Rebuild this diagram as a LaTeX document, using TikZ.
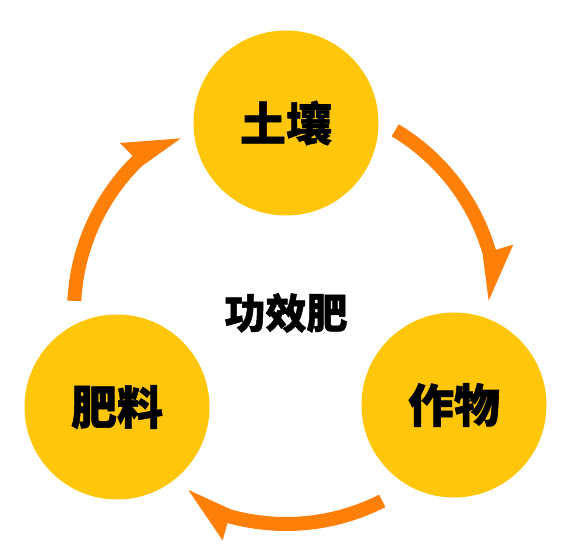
\documentclass[tikz,border=0pt]{standalone}
\usepackage{fontspec}
\newfontfamily\cjk{Noto Sans CJK SC}[BoldFeatures={FakeBold=1.2}]
\definecolor{circyellow}{RGB}{255,198,10}
\definecolor{arroworange}{RGB}{255,128,8}
\newcommand\cyclearrow[1]{%
  \fill[arroworange] (#1:205pt) arc[start angle=#1, end angle=#1-42.5, radius=205pt]
    -- (#1-55.8:203pt) -- (#1-42.5:237pt) -- (#1-42.5:219pt)
    arc[start angle=#1-42.5, end angle=#1, radius=219pt] -- cycle;}
\begin{document}
\begin{tikzpicture}[x=1pt,y=1pt,
  circnode/.style={circle, fill=circyellow, minimum size=185pt, inner sep=0pt,
    font=\cjk\bfseries\fontsize{46}{50}\selectfont},
  centertext/.style={font=\cjk\bfseries\fontsize{41}{45}\selectfont}]
\fill[white] (0,0) rectangle (578,548);
\useasboundingbox (0,0) rectangle (578,548);
\coordinate (ctr) at (286,236);
\node[circnode] (soil) at (286,425) {土壤};
\node[circnode] (fert) at (117,141) {肥料};
\node[circnode] (crop) at (454,143) {作物};
\node[centertext] (gx) at (286,235) {功效肥};
\begin{scope}[shift={(ctr)}]
  \cyclearrow{59}
  \cyclearrow{-63}
  \cyclearrow{177}
\end{scope}
\end{tikzpicture}
\end{document}
